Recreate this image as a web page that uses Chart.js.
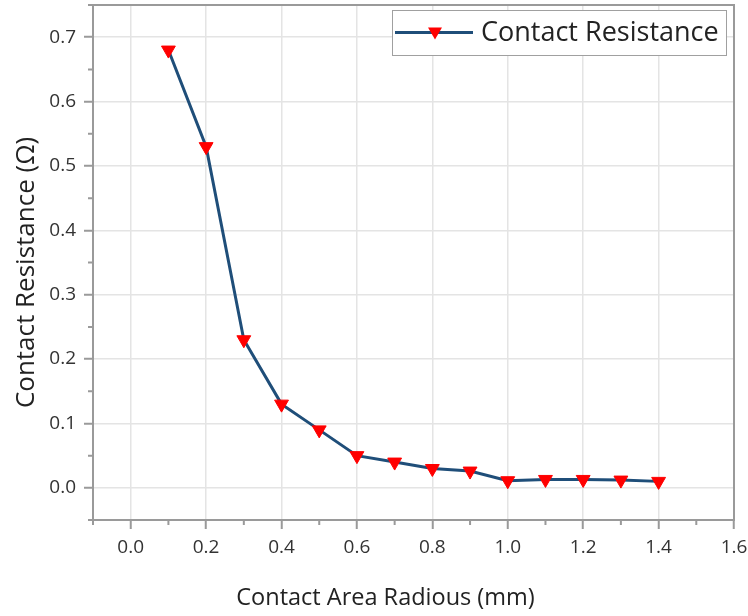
<!DOCTYPE html>
<html>
<head>
<meta charset="utf-8">
<script src="https://cdn.jsdelivr.net/npm/chart.js@4.4.0/dist/chart.umd.min.js"></script>
<style>
html, body { margin: 0; background: #fff; }
#wrap { width: 748px; height: 616px; }
</style>
</head>
<body>
<div id="wrap"><canvas id="chart"></canvas></div>
<script>
// contact area radius (mm) and measured contact resistance (ohm)
const radius_mm = [0.1, 0.2, 0.3, 0.4, 0.5, 0.6, 0.7, 0.8, 0.9, 1.0, 1.1, 1.2, 1.3, 1.4];
const resistance = [0.68, 0.53, 0.23, 0.13, 0.09, 0.05, 0.04, 0.03, 0.026, 0.011, 0.013, 0.013, 0.012, 0.010];

const x_ticks = [0.0, 0.2, 0.4, 0.6, 0.8, 1.0, 1.2, 1.4, 1.6];
const x_minor = [-0.1, 0.1, 0.3, 0.5, 0.7, 0.9, 1.1, 1.3, 1.5];
const y_ticks = [0.0, 0.1, 0.2, 0.3, 0.4, 0.5, 0.6, 0.7];
const y_minor = [-0.05, 0.05, 0.15, 0.25, 0.35, 0.45, 0.55, 0.65, 0.75];

const x_title = 'Contact Area Radious (mm)';
const y_title = 'Contact Resistance (Ω)';

const AXIS = '#9a9a9a';
const GRID = '#e4e4e4';
const FONT = "'Open Sans', 'Noto Sans', sans-serif";

const framePlugin = {
    id: 'frame',
    afterDraw(chart) {
        const ctx = chart.ctx;
        const a = chart.chartArea;
        const xs = chart.scales.x, ys = chart.scales.y;
        ctx.save();
        ctx.strokeStyle = AXIS;
        ctx.lineWidth = 2;
        ctx.strokeRect(a.left, a.top, a.right - a.left, a.bottom - a.top);
        // minor ticks
        ctx.beginPath();
        x_minor.forEach(v => {
            const px = xs.getPixelForValue(v);
            ctx.moveTo(px, a.bottom);
            ctx.lineTo(px, a.bottom + 5);
        });
        y_minor.forEach(v => {
            const py = ys.getPixelForValue(v);
            ctx.moveTo(a.left, py);
            ctx.lineTo(a.left - 5, py);
        });
        ctx.stroke();

        // axis titles (Origin places them a little off the axis centre)
        ctx.fillStyle = '#222';
        ctx.textAlign = 'center';
        ctx.textBaseline = 'middle';
        ctx.font = '23.5px ' + FONT;
        ctx.fillText(x_title, (a.left + a.right) / 2 - 28, xs.bottom - 18);
        ctx.save();
        ctx.translate(27, (a.top + a.bottom) / 2 + 10);
        ctx.rotate(-Math.PI / 2);
        ctx.font = '26px ' + FONT;
        ctx.fillText(y_title, 0, 0);
        ctx.restore();

        // legend box
        const ds = chart.data.datasets[0];
        const bx = 392, by = 10, bw = 334, bh = 45;
        ctx.fillStyle = '#fff';
        ctx.fillRect(bx, by, bw, bh);
        ctx.strokeStyle = '#a0a0a0';
        ctx.lineWidth = 1;
        ctx.strokeRect(bx + 0.5, by + 0.5, bw, bh);
        const ly = by + bh / 2;
        ctx.strokeStyle = ds.borderColor;
        ctx.lineWidth = 3;
        ctx.beginPath();
        ctx.moveTo(bx + 3, ly);
        ctx.lineTo(bx + 81, ly);
        ctx.stroke();
        ctx.fillStyle = ds.pointBackgroundColor;
        ctx.beginPath();
        ctx.moveTo(bx + 36, ly - 5);
        ctx.lineTo(bx + 50, ly - 5);
        ctx.lineTo(bx + 43, ly + 7);
        ctx.closePath();
        ctx.fill();
        ctx.fillStyle = '#222';
        ctx.font = '27px ' + FONT;
        ctx.textAlign = 'left';
        ctx.fillText(ds.label, bx + 89, ly + 1);
        ctx.restore();
    }
};

new Chart(document.getElementById('chart'), {
    type: 'scatter',
    data: {
        datasets: [{
            label: 'Contact Resistance',
            data: radius_mm.map((x, i) => ({ x: x, y: resistance[i] })),
            showLine: true,
            borderColor: '#1f4e79',
            borderWidth: 3,
            pointStyle: 'triangle',
            rotation: 180,
            pointRadius: 8,
            pointHoverRadius: 8,
            pointBackgroundColor: '#ff0000',
            pointBorderColor: '#ff0000',
            pointBorderWidth: 1,
        }],
    },
    options: {
        responsive: true,
        maintainAspectRatio: false,
        animation: false,
        layout: { autoPadding: false, padding: { left: 0, right: 14, top: 5, bottom: 0 } },
        plugins: {
            legend: { display: false },
            tooltip: { enabled: false },
        },
        scales: {
            x: {
                type: 'linear',
                min: -0.1,
                max: 1.6,
                afterBuildTicks: s => { s.ticks = x_ticks.map(v => ({ value: v })); },
                afterFit: s => { s.height = 96; s.paddingLeft = 0; s.paddingRight = 0; },
                grid: { color: GRID, lineWidth: 1.5, tickColor: AXIS, tickLength: 9, tickWidth: 2 },
                border: { color: AXIS, width: 2 },
                ticks: {
                    padding: 7,
                    color: '#333',
                    font: { family: FONT, size: 19 },
                    callback: v => v.toFixed(1),
                },
            },
            y: {
                type: 'linear',
                min: -0.05,
                max: 0.75,
                afterBuildTicks: s => { s.ticks = y_ticks.map(v => ({ value: v })); },
                afterFit: s => { s.width = 93; s.paddingTop = 0; s.paddingBottom = 0; },
                grid: { color: GRID, lineWidth: 1.5, tickColor: AXIS, tickLength: 9, tickWidth: 2 },
                border: { color: AXIS, width: 2 },
                ticks: {
                    padding: 8,
                    color: '#333',
                    font: { family: FONT, size: 19 },
                    callback: v => v.toFixed(1),
                },
            },
        },
    },
    plugins: [framePlugin],
});
</script>
</body>
</html>
